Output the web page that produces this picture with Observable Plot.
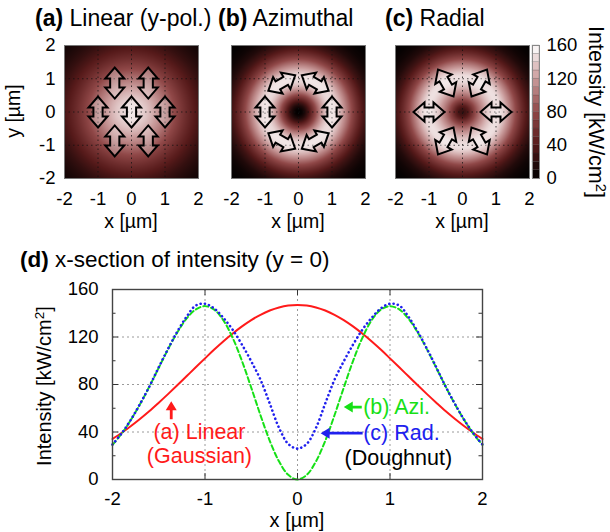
<!DOCTYPE html>
<html><head><meta charset="utf-8">
<script src="https://cdn.jsdelivr.net/npm/d3@7"></script>
<script src="https://cdn.jsdelivr.net/npm/@observablehq/plot@0.6"></script>
<style>
html,body{margin:0;padding:0;background:#fff;}
#chart{position:relative;width:610px;height:532px;overflow:hidden;font-family:"Liberation Sans",Arial,Helvetica,sans-serif;color:#000;}
#chart svg{position:absolute;overflow:visible;}
.lbl{position:absolute;white-space:nowrap;line-height:1;}
.lbl sup{font-size:0.68em;vertical-align:0.5em;line-height:0;}
</style></head><body><div id="chart"></div>
<script>
// ---- data ----
const radius = [0,0.1,0.2,0.3,0.4,0.5,0.6,0.7,0.8,0.9,1.0,1.1,1.2,1.3,1.4,1.5,1.6,1.7,1.8,1.9,2.0,2.2,2.4,2.6,2.8,3.0];
const linearProfile    = [147,146.5,144.9,142.3,138.7,134.2,128.9,122.9,116.4,109.4,102,94.5,86.9,79.3,71.9,64.7,57.7,51.2,45.1,39.4,34.1,25,18,12.5,8.5,5.5];
const azimuthalProfile = [0,3.9,15.3,32.6,54.1,77.3,99.7,119.1,133.9,143,146,143.2,135.4,123.8,109.6,94.1,78.5,63.7,50.4,38.7,29.1,15.2,7.2,3.1,1.2,0.4];
const radialProfile    = [26,30,43.5,64,84,99.5,113.5,126,136,144,148,146.5,137,124.5,110,94.5,78.5,64,50.5,39,29.5,15.5,7.5,3.2,1.3,0.5];

const mapTicks = [-2,-1,0,1,2];
const mapGrid = [-1,0,1];
const colorbarTicks = [0,40,80,120,160];
const colorbarSteps = [0,10,20,30,40,50,60,70,80,90,100,110,120,130,140,150];
const paletteStops = [0,40,80,120,160];
const paletteColors = ["#000000","#561a1a","#904848","#ca9c9c","#ffffff"];

const linearArrowX = [0,1,0.5,-0.5,-1,-0.5,0.5];
const linearArrowY = [0,0,0.87,0.87,0,-0.87,-0.87];
const linearArrowRot = [0,0,0,0,0,0,0];
const ringArrowX = [1,0.5,-0.5,-1,-0.5,0.5];
const ringArrowY = [0,0.87,0.87,0,-0.87,-0.87];
const azimuthalArrowRot = [0,-60,-120,-180,-240,-300];
const radialArrowRot = [90,30,-30,-90,-150,-210];

const sectionTicksX = [-2,-1,0,1,2];
const sectionGridX = [-1,0,1];
const sectionTicksY = [0,40,80,120,160];
const sectionGridY = [40,80,120];
const sectionMinorY = [20,60,100,140];

const noteText = ["(a) Linear","(Gaussian)","(b) Azi.","(c) Rad.","(Doughnut)"];
const noteX = [-1.06,-1.06,0.71,0.71,1.09];
const noteY = [40,20,61,39,18];
const noteColor = ["#ff1a1a","#ff1a1a","#16e016","#2020ee","#000000"];
const noteAnchor = ["middle","middle","start","start","middle"];

const pointerX = [-1.365,0.5,0.25];
const pointerY = [66,61,39];
const pointerRot = [0,-90,-90];
const pointerLen = [18,18,42];
const pointerColor = ["#ff1a1a","#16e016","#2020ee"];

// ---- helpers ----
const root = document.getElementById("chart");
const FONT = '"Liberation Sans", Arial, Helvetica, sans-serif';
const fmt = d => String(d);
const colorOpt = {type:"linear", domain: paletteStops, range: paletteColors, clamp: true};
const place = (svg, left, top) => { svg.style.left = left + "px"; svg.style.top = top + "px"; root.appendChild(svg); };
function label(html, x, y, {size=20, anchor="middle", rotate=0} = {}) {
  const d = document.createElement("div");
  d.className = "lbl";
  d.innerHTML = html;
  d.style.left = x + "px"; d.style.top = y + "px"; d.style.fontSize = size + "px";
  const tx = anchor === "start" ? "0" : "-50%";
  d.style.transform = `translate(${tx},-50%)` + (rotate ? ` rotate(${rotate}deg)` : "");
  if (anchor === "start") d.style.transformOrigin = "0 50%";
  root.appendChild(d);
}
const doubleArrow = {draw(c, l) {
  const h = 9.5, s = 4.6, a = 11;
  c.moveTo(0,0); c.lineTo(h,-a); c.lineTo(s,-a); c.lineTo(s,-(l-a)); c.lineTo(h,-(l-a));
  c.lineTo(0,-l); c.lineTo(-h,-(l-a)); c.lineTo(-s,-(l-a)); c.lineTo(-s,-a); c.lineTo(-h,-a); c.closePath();
}};
const solidArrow = {draw(c, l) {
  const h = 5.5, s = 1.4, a = 9;
  c.moveTo(-s,0); c.lineTo(s,0); c.lineTo(s,-(l-a)); c.lineTo(h,-(l-a)); c.lineTo(0,-l);
  c.lineTo(-h,-(l-a)); c.lineTo(-s,-(l-a)); c.closePath();
}};
const toArrows = (xs, ys, rs) => xs.map((x,i) => ({x, y: ys[i], r: rs[i]}));

// ---- heat maps ----
const panels = [
  {frameLeft: 64, profile: linearProfile, arrows: toArrows(linearArrowX, linearArrowY, linearArrowRot), yAxis: true},
  {frameLeft: 231, profile: azimuthalProfile, arrows: toArrows(ringArrowX, ringArrowY, azimuthalArrowRot), yAxis: false},
  {frameLeft: 395, profile: radialProfile, arrows: toArrows(ringArrowX, ringArrowY, radialArrowRot), yAxis: false}
];
for (const p of panels) {
  const lookup = d3.scaleLinear(radius, p.profile).clamp(true);
  const svg = Plot.plot({
    width: 210, height: 230, marginLeft: 64, marginRight: 12, marginTop: 45, marginBottom: 52,
    style: {fontFamily: FONT, fontSize: "18.5px", color: "#000", background: "transparent"},
    x: {domain: [-2,2], ticks: mapTicks, tickSize: 0, tickPadding: 13, tickFormat: fmt, label: null},
    y: p.yAxis ? {domain: [-2,2], ticks: mapTicks, tickSize: 0, tickPadding: 9, tickFormat: fmt, label: null}
               : {domain: [-2,2], axis: null},
    color: colorOpt,
    marks: [
      Plot.raster({x1: -2, x2: 2, y1: -2, y2: 2, pixelSize: 1, fill: (x, y) => lookup(Math.hypot(x, y))}),
      Plot.ruleX(mapGrid, {stroke: "#111", strokeOpacity: 0.75, strokeDasharray: "1.5,3"}),
      Plot.ruleY(mapGrid, {stroke: "#111", strokeOpacity: 0.75, strokeDasharray: "1.5,3"}),
      Plot.vector(p.arrows, {x: "x", y: "y", rotate: "r", length: 31, anchor: "middle", shape: doubleArrow,
        stroke: "#000", strokeWidth: 2, fill: "#fff", fillOpacity: 0.3, strokeLinejoin: "miter"}),
      Plot.frame({stroke: "#777", strokeWidth: 1})
    ]
  });
  place(svg, p.frameLeft - 64, 0);
}

// ---- colour bar ----
const cbar = Plot.plot({
  width: 80, height: 230, marginLeft: 2, marginRight: 71, marginTop: 45, marginBottom: 52,
  style: {fontFamily: FONT, fontSize: "18.5px", color: "#000", background: "transparent"},
  x: {axis: null},
  y: {domain: [0,160], ticks: colorbarTicks, axis: "right", tickSize: 0, tickPadding: 7, tickFormat: fmt, label: null},
  color: colorOpt,
  marks: [
    Plot.rect(colorbarSteps, {y1: d => d, y2: d => d + 10, fill: d => d + 5, stroke: "#000", strokeOpacity: 0.25, strokeWidth: 0.6}),
    Plot.frame({stroke: "#888", strokeWidth: 1})
  ]
});
place(cbar, 530, 0);

// ---- cross-section ----
const nSection = radius.indexOf(2.0);
function section(profile) {
  const rows = [];
  for (let i = nSection; i >= 1; i--) rows.push({x: -radius[i], v: profile[i]});
  for (let i = 0; i <= nSection; i++) rows.push({x: radius[i], v: profile[i]});
  return rows;
}
const notes = noteText.map((t,i) => ({t, x: noteX[i], y: noteY[i], c: noteColor[i], a: noteAnchor[i]}));
const pointers = pointerX.map((x,i) => ({x, y: pointerY[i], r: pointerRot[i], l: pointerLen[i], c: pointerColor[i]}));
const fw = 370, fh = 190;
const tickStyle = {stroke: "#333", strokeWidth: 1};
const gridStyle = {stroke: "#9a9a9a", strokeWidth: 1, strokeDasharray: "2,3"};
const bottom = Plot.plot({
  width: 610, height: 262, marginLeft: 112, marginRight: 128, marginTop: 19, marginBottom: 53,
  style: {fontFamily: FONT, fontSize: "18.5px", color: "#000", background: "transparent"},
  x: {domain: [-2,2], ticks: sectionTicksX, tickSize: 0, tickPadding: 12, tickFormat: fmt, label: null},
  y: {domain: [0,160], ticks: sectionTicksY, tickSize: 0, tickPadding: 14, tickFormat: fmt, label: null},
  length: {type: "identity"},
  marks: [
    Plot.ruleX(sectionGridX, gridStyle),
    Plot.ruleY(sectionGridY, gridStyle),
    Plot.ruleX(sectionTicksX, {...tickStyle, insetTop: fh - 6}),
    Plot.ruleX(sectionTicksX, {...tickStyle, insetBottom: fh - 6}),
    Plot.ruleY(sectionTicksY, {...tickStyle, insetRight: fw - 6}),
    Plot.ruleY(sectionTicksY, {...tickStyle, insetLeft: fw - 6}),
    Plot.ruleY(sectionMinorY, {...tickStyle, insetRight: fw - 3.5}),
    Plot.ruleY(sectionMinorY, {...tickStyle, insetLeft: fw - 3.5}),
    Plot.line(section(linearProfile), {x: "x", y: "v", stroke: "#ff1a1a", strokeWidth: 2, curve: "catmull-rom"}),
    Plot.line(section(azimuthalProfile), {x: "x", y: "v", stroke: "#16e016", strokeWidth: 2, strokeDasharray: "5,3", curve: "catmull-rom"}),
    Plot.line(section(radialProfile), {x: "x", y: "v", stroke: "#2020ee", strokeWidth: 2.6, strokeDasharray: "0.1,4.2", strokeLinecap: "round", curve: "catmull-rom"}),
    Plot.vector(pointers, {x: "x", y: "y", rotate: "r", length: "l", anchor: "end", shape: solidArrow, fill: "c", stroke: "none"}),
    Plot.text(notes.filter(d => d.a === "middle"), {x: "x", y: "y", text: "t", fill: "c", fontSize: 21.5, textAnchor: "middle"}),
    Plot.text(notes.filter(d => d.a === "start"), {x: "x", y: "y", text: "t", fill: "c", fontSize: 21.5, textAnchor: "start"}),
    Plot.frame({stroke: "#444", strokeWidth: 1.4})
  ]
});
place(bottom, 0, 270);

// ---- titles and axis labels ----
label("<b>(a)</b> Linear (y-pol.)", 35, 18, {size: 23, anchor: "start"});
label("<b>(b)</b> Azimuthal", 218, 18, {size: 23, anchor: "start"});
label("<b>(c)</b> Radial", 385, 18, {size: 23, anchor: "start"});
label("y [µm]", 14, 111, {size: 19.5, rotate: -90});
label("x [µm]", 131, 222, {size: 19.5});
label("x [µm]", 298, 222, {size: 19.5});
label("x [µm]", 462, 222, {size: 19.5});
label("Intensity [kW/cm<sup>2</sup>]", 595, 112, {size: 21.5, rotate: 90});
label("<b>(d)</b> x-section of intensity (y = 0)", 20, 260, {size: 22.5, anchor: "start"});
label("Intensity [kW/cm<sup>2</sup>]", 44, 386, {size: 20, rotate: -90});
label("x [µm]", 297, 520, {size: 20});
</script></body></html>
